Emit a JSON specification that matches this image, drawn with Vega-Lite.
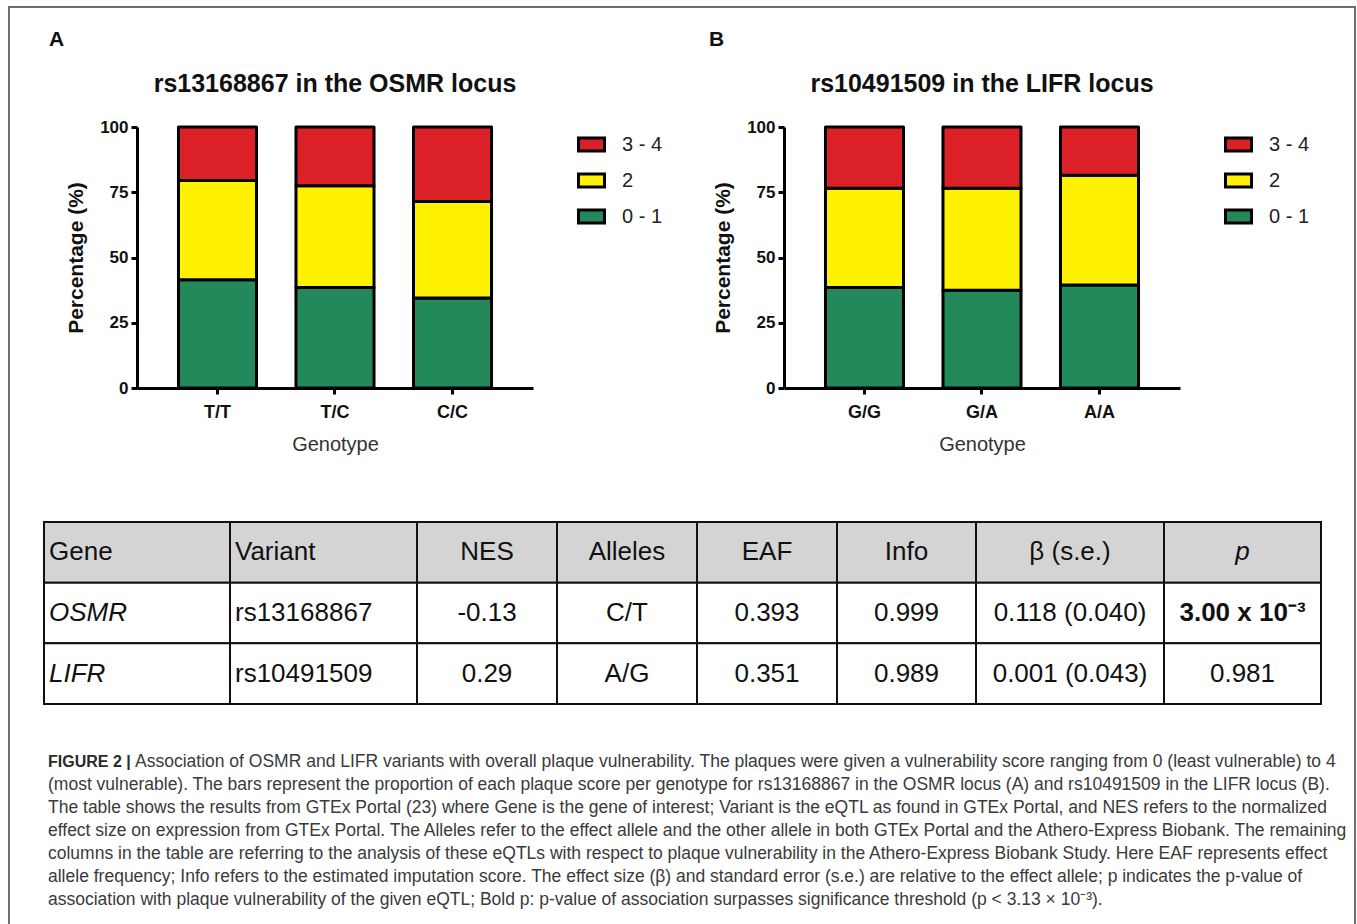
{
  "$schema": "https://vega.github.io/schema/vega-lite/v6.json",
  "background": "white",
  "padding": {"left": 8, "top": 6, "right": 0, "bottom": 0},
  "config": {
    "view": {"stroke": null},
    "font": "Liberation Sans",
    "axis": {"domainColor": "black", "domainWidth": 3, "tickColor": "black", "tickWidth": 3, "tickSize": 6, "labelColor": "#111", "labelFont": "Liberation Sans", "labelFontWeight": "bold", "labelFontSize": 17, "titleFont": "Liberation Sans", "grid": false},
    "axisX": {"labelAngle": 0, "labelPadding": 9, "labelFontSize": 18, "titleFontWeight": "normal", "titleFontSize": 20, "titleColor": "#333", "titlePadding": 13},
    "axisY": {"labelPadding": 3, "titleFontWeight": "bold", "titleFontSize": 21, "titleColor": "#111", "titlePadding": 13},
    "title": {"font": "Liberation Sans", "fontSize": 25, "fontWeight": "bold", "color": "#111", "anchor": "middle", "frame": "group", "baseline": "alphabetic", "offset": 21},
    "legend": {"symbolType": "M-1,-0.5H1V0.5H-1Z", "symbolSize": 676, "symbolStrokeColor": "black", "symbolStrokeWidth": 3, "labelFont": "Liberation Sans", "labelFontSize": 20, "labelColor": "#222", "labelOffset": 16, "rowPadding": 9, "padding": 3, "offset": 41, "orient": "right"}
  },
  "datasets": {
    "bars": [
      {"panel": "A", "genotype": "T/T", "score": "0 - 1", "rank": 1, "pct": 41.5},
      {"panel": "A", "genotype": "T/T", "score": "2", "rank": 2, "pct": 38},
      {"panel": "A", "genotype": "T/T", "score": "3 - 4", "rank": 3, "pct": 20.5},
      {"panel": "A", "genotype": "T/C", "score": "0 - 1", "rank": 1, "pct": 38.5},
      {"panel": "A", "genotype": "T/C", "score": "2", "rank": 2, "pct": 39},
      {"panel": "A", "genotype": "T/C", "score": "3 - 4", "rank": 3, "pct": 22.5},
      {"panel": "A", "genotype": "C/C", "score": "0 - 1", "rank": 1, "pct": 34.5},
      {"panel": "A", "genotype": "C/C", "score": "2", "rank": 2, "pct": 37},
      {"panel": "A", "genotype": "C/C", "score": "3 - 4", "rank": 3, "pct": 28.5},
      {"panel": "B", "genotype": "G/G", "score": "0 - 1", "rank": 1, "pct": 38.5},
      {"panel": "B", "genotype": "G/G", "score": "2", "rank": 2, "pct": 38},
      {"panel": "B", "genotype": "G/G", "score": "3 - 4", "rank": 3, "pct": 23.5},
      {"panel": "B", "genotype": "G/A", "score": "0 - 1", "rank": 1, "pct": 37.5},
      {"panel": "B", "genotype": "G/A", "score": "2", "rank": 2, "pct": 39},
      {"panel": "B", "genotype": "G/A", "score": "3 - 4", "rank": 3, "pct": 23.5},
      {"panel": "B", "genotype": "A/A", "score": "0 - 1", "rank": 1, "pct": 39.5},
      {"panel": "B", "genotype": "A/A", "score": "2", "rank": 2, "pct": 42},
      {"panel": "B", "genotype": "A/A", "score": "3 - 4", "rank": 3, "pct": 18.5}
    ],
    "table": [
      {"col": "Gene", "row": "h", "text": "Gene"},
      {"col": "Gene", "row": "a", "text": "OSMR"},
      {"col": "Gene", "row": "b", "text": "LIFR"},
      {"col": "Variant", "row": "h", "text": "Variant"},
      {"col": "Variant", "row": "a", "text": "rs13168867"},
      {"col": "Variant", "row": "b", "text": "rs10491509"},
      {"col": "NES", "row": "h", "text": "NES"},
      {"col": "NES", "row": "a", "text": "-0.13"},
      {"col": "NES", "row": "b", "text": "0.29"},
      {"col": "Alleles", "row": "h", "text": "Alleles"},
      {"col": "Alleles", "row": "a", "text": "C/T"},
      {"col": "Alleles", "row": "b", "text": "A/G"},
      {"col": "EAF", "row": "h", "text": "EAF"},
      {"col": "EAF", "row": "a", "text": "0.393"},
      {"col": "EAF", "row": "b", "text": "0.351"},
      {"col": "Info", "row": "h", "text": "Info"},
      {"col": "Info", "row": "a", "text": "0.999"},
      {"col": "Info", "row": "b", "text": "0.989"},
      {"col": "Beta", "row": "h", "text": "β (s.e.)"},
      {"col": "Beta", "row": "a", "text": "0.118 (0.040)"},
      {"col": "Beta", "row": "b", "text": "0.001 (0.043)"},
      {"col": "P", "row": "h", "text": "p"},
      {"col": "P", "row": "a", "text": "3.00 x 10⁻³"},
      {"col": "P", "row": "b", "text": "0.981"}
    ],
    "caption": [
      {"line": 1, "text": "Association of OSMR and LIFR variants with overall plaque vulnerability. The plaques were given a vulnerability score ranging from 0 (least vulnerable) to 4"},
      {"line": 2, "text": "(most vulnerable). The bars represent the proportion of each plaque score per genotype for rs13168867 in the OSMR locus (A) and rs10491509 in the LIFR locus (B)."},
      {"line": 3, "text": "The table shows the results from GTEx Portal (23) where Gene is the gene of interest; Variant is the eQTL as found in GTEx Portal, and NES refers to the normalized"},
      {"line": 4, "text": "effect size on expression from GTEx Portal. The Alleles refer to the effect allele and the other allele in both GTEx Portal and the Athero-Express Biobank. The remaining"},
      {"line": 5, "text": "columns in the table are referring to the analysis of these eQTLs with respect to plaque vulnerability in the Athero-Express Biobank Study. Here EAF represents effect"},
      {"line": 6, "text": "allele frequency; Info refers to the estimated imputation score. The effect size (β) and standard error (s.e.) are relative to the effect allele; p indicates the p-value of"},
      {"line": 7, "text": "association with plaque vulnerability of the given eQTL; Bold p: p-value of association surpasses significance threshold (p < 3.13 × 10⁻³)."}
    ]
  },
  "hconcat": [
    {
      "vconcat": [
        {
          "width": 1, "height": 120,
          "data": {"values": [{}]},
          "mark": {"type": "text"},
          "encoding": {"text": {"value": ""}}
        },
        {
          "vconcat": [
            {
              "hconcat": [
                {
                  "width": 128, "height": 261,
                  "data": {"values": [{}]},
                  "mark": {"type": "text"},
                  "encoding": {"text": {"value": ""}},
                  "title": {"text": "A", "anchor": "start", "fontSize": 21, "offset": 77, "dx": 40}
                },
                {
                  "width": 396, "height": 261,
                  "title": {"text": "rs13168867 in the OSMR locus"},
                  "data": {"name": "bars"},
                  "transform": [{"filter": "datum.panel == 'A'"}],
                  "mark": {"type": "bar", "stroke": "black", "strokeWidth": 3, "strokeJoin": "round"},
                  "encoding": {
                    "x": {"field": "genotype", "type": "nominal", "sort": ["T/T", "T/C", "C/C"], "scale": {"paddingInner": 0.336, "paddingOuter": 0.353}, "axis": {"title": "Genotype"}},
                    "y": {"field": "pct", "type": "quantitative", "stack": "zero", "scale": {"domain": [0, 100], "nice": false}, "axis": {"title": "Percentage (%)", "values": [0, 25, 50, 75, 100]}},
                    "color": {"field": "score", "type": "nominal", "scale": {"domain": ["3 - 4", "2", "0 - 1"], "range": ["#dc2027", "#fff200", "#24895a"]}, "legend": {"title": null}},
                    "order": {"field": "rank", "type": "quantitative"}
                  }
                },
                {
                  "width": 251, "height": 261,
                  "data": {"values": [{}]},
                  "mark": {"type": "text"},
                  "encoding": {"text": {"value": ""}},
                  "title": {"text": "B", "anchor": "start", "fontSize": 21, "offset": 77, "dx": 176}
                },
                {
                  "width": 396, "height": 261,
                  "title": {"text": "rs10491509 in the LIFR locus"},
                  "data": {"name": "bars"},
                  "transform": [{"filter": "datum.panel == 'B'"}],
                  "mark": {"type": "bar", "stroke": "black", "strokeWidth": 3, "strokeJoin": "round"},
                  "encoding": {
                    "x": {"field": "genotype", "type": "nominal", "sort": ["G/G", "G/A", "A/A"], "scale": {"paddingInner": 0.336, "paddingOuter": 0.353}, "axis": {"title": "Genotype"}},
                    "y": {"field": "pct", "type": "quantitative", "stack": "zero", "scale": {"domain": [0, 100], "nice": false}, "axis": {"title": "Percentage (%)", "values": [0, 25, 50, 75, 100]}},
                    "color": {"field": "score", "type": "nominal", "scale": {"domain": ["3 - 4", "2", "0 - 1"], "range": ["#dc2027", "#fff200", "#24895a"]}, "legend": {"title": null}},
                    "order": {"field": "rank", "type": "quantitative"}
                  }
                }
              ],
              "spacing": 0,
              "bounds": "flush",
              "resolve": {"scale": {"color": "independent", "x": "independent", "y": "independent"}, "legend": {"color": "independent"}}
            },
            {
              "vconcat": [
                {
                  "hconcat": [
                    {
                      "width": 35, "height": 182,
                      "data": {"values": [{}]},
                      "mark": {"type": "text"},
                      "encoding": {"text": {"value": ""}}
                    },
                    {
                      "width": 186, "height": 182,
                      "data": {"name": "table"},
                      "transform": [{"filter": "datum.col == 'Gene'"}],
                      "encoding": {"y": {"field": "row", "type": "nominal", "sort": ["h", "a", "b"], "axis": null, "scale": {"type": "band", "paddingInner": 0, "paddingOuter": 0}}},
                      "layer": [
                        {"mark": {"type": "rect", "stroke": "#111", "strokeWidth": 2}, "encoding": {"fill": {"field": "row", "type": "nominal", "scale": {"domain": ["h", "a", "b"], "range": ["#d4d4d4", "white", "white"]}, "legend": null}}},
                        {"transform": [{"filter": "datum.row == 'h'"}], "mark": {"type": "text", "align": "left", "baseline": "middle", "fontSize": 26, "color": "#111", "dx": 5}, "encoding": {"x": {"datum": 0, "type": "quantitative", "scale": {"domain": [0, 1]}, "axis": null}, "text": {"field": "text"}}},
                        {"transform": [{"filter": "datum.row != 'h'"}], "mark": {"type": "text", "align": "left", "baseline": "middle", "fontSize": 26, "fontStyle": "italic", "color": "#111", "dx": 5}, "encoding": {"x": {"datum": 0, "type": "quantitative", "scale": {"domain": [0, 1]}, "axis": null}, "text": {"field": "text"}}}
                      ]
                    },
                    {
                      "width": 187, "height": 182,
                      "data": {"name": "table"},
                      "transform": [{"filter": "datum.col == 'Variant'"}],
                      "encoding": {"y": {"field": "row", "type": "nominal", "sort": ["h", "a", "b"], "axis": null, "scale": {"type": "band", "paddingInner": 0, "paddingOuter": 0}}},
                      "layer": [
                        {"mark": {"type": "rect", "stroke": "#111", "strokeWidth": 2}, "encoding": {"fill": {"field": "row", "type": "nominal", "scale": {"domain": ["h", "a", "b"], "range": ["#d4d4d4", "white", "white"]}, "legend": null}}},
                        {"mark": {"type": "text", "align": "left", "baseline": "middle", "fontSize": 26, "color": "#111", "dx": 5}, "encoding": {"x": {"datum": 0, "type": "quantitative", "scale": {"domain": [0, 1]}, "axis": null}, "text": {"field": "text"}}}
                      ]
                    },
                    {
                      "width": 140, "height": 182,
                      "data": {"name": "table"},
                      "transform": [{"filter": "datum.col == 'NES'"}],
                      "encoding": {"y": {"field": "row", "type": "nominal", "sort": ["h", "a", "b"], "axis": null, "scale": {"type": "band", "paddingInner": 0, "paddingOuter": 0}}},
                      "layer": [
                        {"mark": {"type": "rect", "stroke": "#111", "strokeWidth": 2}, "encoding": {"fill": {"field": "row", "type": "nominal", "scale": {"domain": ["h", "a", "b"], "range": ["#d4d4d4", "white", "white"]}, "legend": null}}},
                        {"mark": {"type": "text", "align": "center", "baseline": "middle", "fontSize": 26, "color": "#111"}, "encoding": {"text": {"field": "text"}}}
                      ]
                    },
                    {
                      "width": 140, "height": 182,
                      "data": {"name": "table"},
                      "transform": [{"filter": "datum.col == 'Alleles'"}],
                      "encoding": {"y": {"field": "row", "type": "nominal", "sort": ["h", "a", "b"], "axis": null, "scale": {"type": "band", "paddingInner": 0, "paddingOuter": 0}}},
                      "layer": [
                        {"mark": {"type": "rect", "stroke": "#111", "strokeWidth": 2}, "encoding": {"fill": {"field": "row", "type": "nominal", "scale": {"domain": ["h", "a", "b"], "range": ["#d4d4d4", "white", "white"]}, "legend": null}}},
                        {"mark": {"type": "text", "align": "center", "baseline": "middle", "fontSize": 26, "color": "#111"}, "encoding": {"text": {"field": "text"}}}
                      ]
                    },
                    {
                      "width": 140, "height": 182,
                      "data": {"name": "table"},
                      "transform": [{"filter": "datum.col == 'EAF'"}],
                      "encoding": {"y": {"field": "row", "type": "nominal", "sort": ["h", "a", "b"], "axis": null, "scale": {"type": "band", "paddingInner": 0, "paddingOuter": 0}}},
                      "layer": [
                        {"mark": {"type": "rect", "stroke": "#111", "strokeWidth": 2}, "encoding": {"fill": {"field": "row", "type": "nominal", "scale": {"domain": ["h", "a", "b"], "range": ["#d4d4d4", "white", "white"]}, "legend": null}}},
                        {"mark": {"type": "text", "align": "center", "baseline": "middle", "fontSize": 26, "color": "#111"}, "encoding": {"text": {"field": "text"}}}
                      ]
                    },
                    {
                      "width": 139, "height": 182,
                      "data": {"name": "table"},
                      "transform": [{"filter": "datum.col == 'Info'"}],
                      "encoding": {"y": {"field": "row", "type": "nominal", "sort": ["h", "a", "b"], "axis": null, "scale": {"type": "band", "paddingInner": 0, "paddingOuter": 0}}},
                      "layer": [
                        {"mark": {"type": "rect", "stroke": "#111", "strokeWidth": 2}, "encoding": {"fill": {"field": "row", "type": "nominal", "scale": {"domain": ["h", "a", "b"], "range": ["#d4d4d4", "white", "white"]}, "legend": null}}},
                        {"mark": {"type": "text", "align": "center", "baseline": "middle", "fontSize": 26, "color": "#111"}, "encoding": {"text": {"field": "text"}}}
                      ]
                    },
                    {
                      "width": 188, "height": 182,
                      "data": {"name": "table"},
                      "transform": [{"filter": "datum.col == 'Beta'"}],
                      "encoding": {"y": {"field": "row", "type": "nominal", "sort": ["h", "a", "b"], "axis": null, "scale": {"type": "band", "paddingInner": 0, "paddingOuter": 0}}},
                      "layer": [
                        {"mark": {"type": "rect", "stroke": "#111", "strokeWidth": 2}, "encoding": {"fill": {"field": "row", "type": "nominal", "scale": {"domain": ["h", "a", "b"], "range": ["#d4d4d4", "white", "white"]}, "legend": null}}},
                        {"mark": {"type": "text", "align": "center", "baseline": "middle", "fontSize": 26, "color": "#111"}, "encoding": {"text": {"field": "text"}}}
                      ]
                    },
                    {
                      "width": 157, "height": 182,
                      "data": {"name": "table"},
                      "transform": [{"filter": "datum.col == 'P'"}],
                      "encoding": {"y": {"field": "row", "type": "nominal", "sort": ["h", "a", "b"], "axis": null, "scale": {"type": "band", "paddingInner": 0, "paddingOuter": 0}}},
                      "layer": [
                        {"mark": {"type": "rect", "stroke": "#111", "strokeWidth": 2}, "encoding": {"fill": {"field": "row", "type": "nominal", "scale": {"domain": ["h", "a", "b"], "range": ["#d4d4d4", "white", "white"]}, "legend": null}}},
                        {"transform": [{"filter": "datum.row == 'h'"}], "mark": {"type": "text", "align": "center", "baseline": "middle", "fontSize": 26, "fontStyle": "italic", "color": "#111"}, "encoding": {"text": {"field": "text"}}},
                        {"transform": [{"filter": "datum.row == 'a'"}], "mark": {"type": "text", "align": "center", "baseline": "middle", "fontSize": 26, "fontWeight": "bold", "color": "#111"}, "encoding": {"text": {"field": "text"}}},
                        {"transform": [{"filter": "datum.row == 'b'"}], "mark": {"type": "text", "align": "center", "baseline": "middle", "fontSize": 26, "color": "#111"}, "encoding": {"text": {"field": "text"}}}
                      ]
                    }
                  ],
                  "spacing": 0,
                  "bounds": "flush"
                },
                {
                  "width": 1340, "height": 161,
                  "data": {"name": "caption"},
                  "encoding": {
                    "y": {"field": "line", "type": "ordinal", "axis": null},
                    "x": {"datum": 0, "type": "quantitative", "scale": {"domain": [0, 1]}, "axis": null}
                  },
                  "layer": [
                    {"transform": [{"filter": "datum.line == 1"}], "mark": {"type": "text", "align": "left", "baseline": "middle", "fontSize": 16, "fontWeight": "bold", "color": "#2a2a2a", "dx": 39}, "encoding": {"text": {"value": "FIGURE 2 |"}}},
                    {"transform": [{"filter": "datum.line == 1"}], "mark": {"type": "text", "align": "left", "baseline": "middle", "fontSize": 17.5, "color": "#3a3a3a", "dx": 126}, "encoding": {"text": {"field": "text"}}},
                    {"transform": [{"filter": "datum.line > 1"}], "mark": {"type": "text", "align": "left", "baseline": "middle", "fontSize": 17.5, "color": "#3a3a3a", "dx": 39}, "encoding": {"text": {"field": "text"}}}
                  ]
                }
              ],
              "spacing": 228,
              "bounds": "flush"
            }
          ],
          "spacing": 395,
          "bounds": "flush"
        }
      ],
      "spacing": 0,
      "bounds": "flush"
    },
    {
      "width": 1346, "height": 940,
      "data": {"values": [{}]},
      "mark": {"type": "text"},
      "encoding": {"text": {"value": ""}},
      "view": {"stroke": "#6f6f6f", "strokeWidth": 2}
    }
  ],
  "spacing": 0,
  "bounds": "flush"
}
